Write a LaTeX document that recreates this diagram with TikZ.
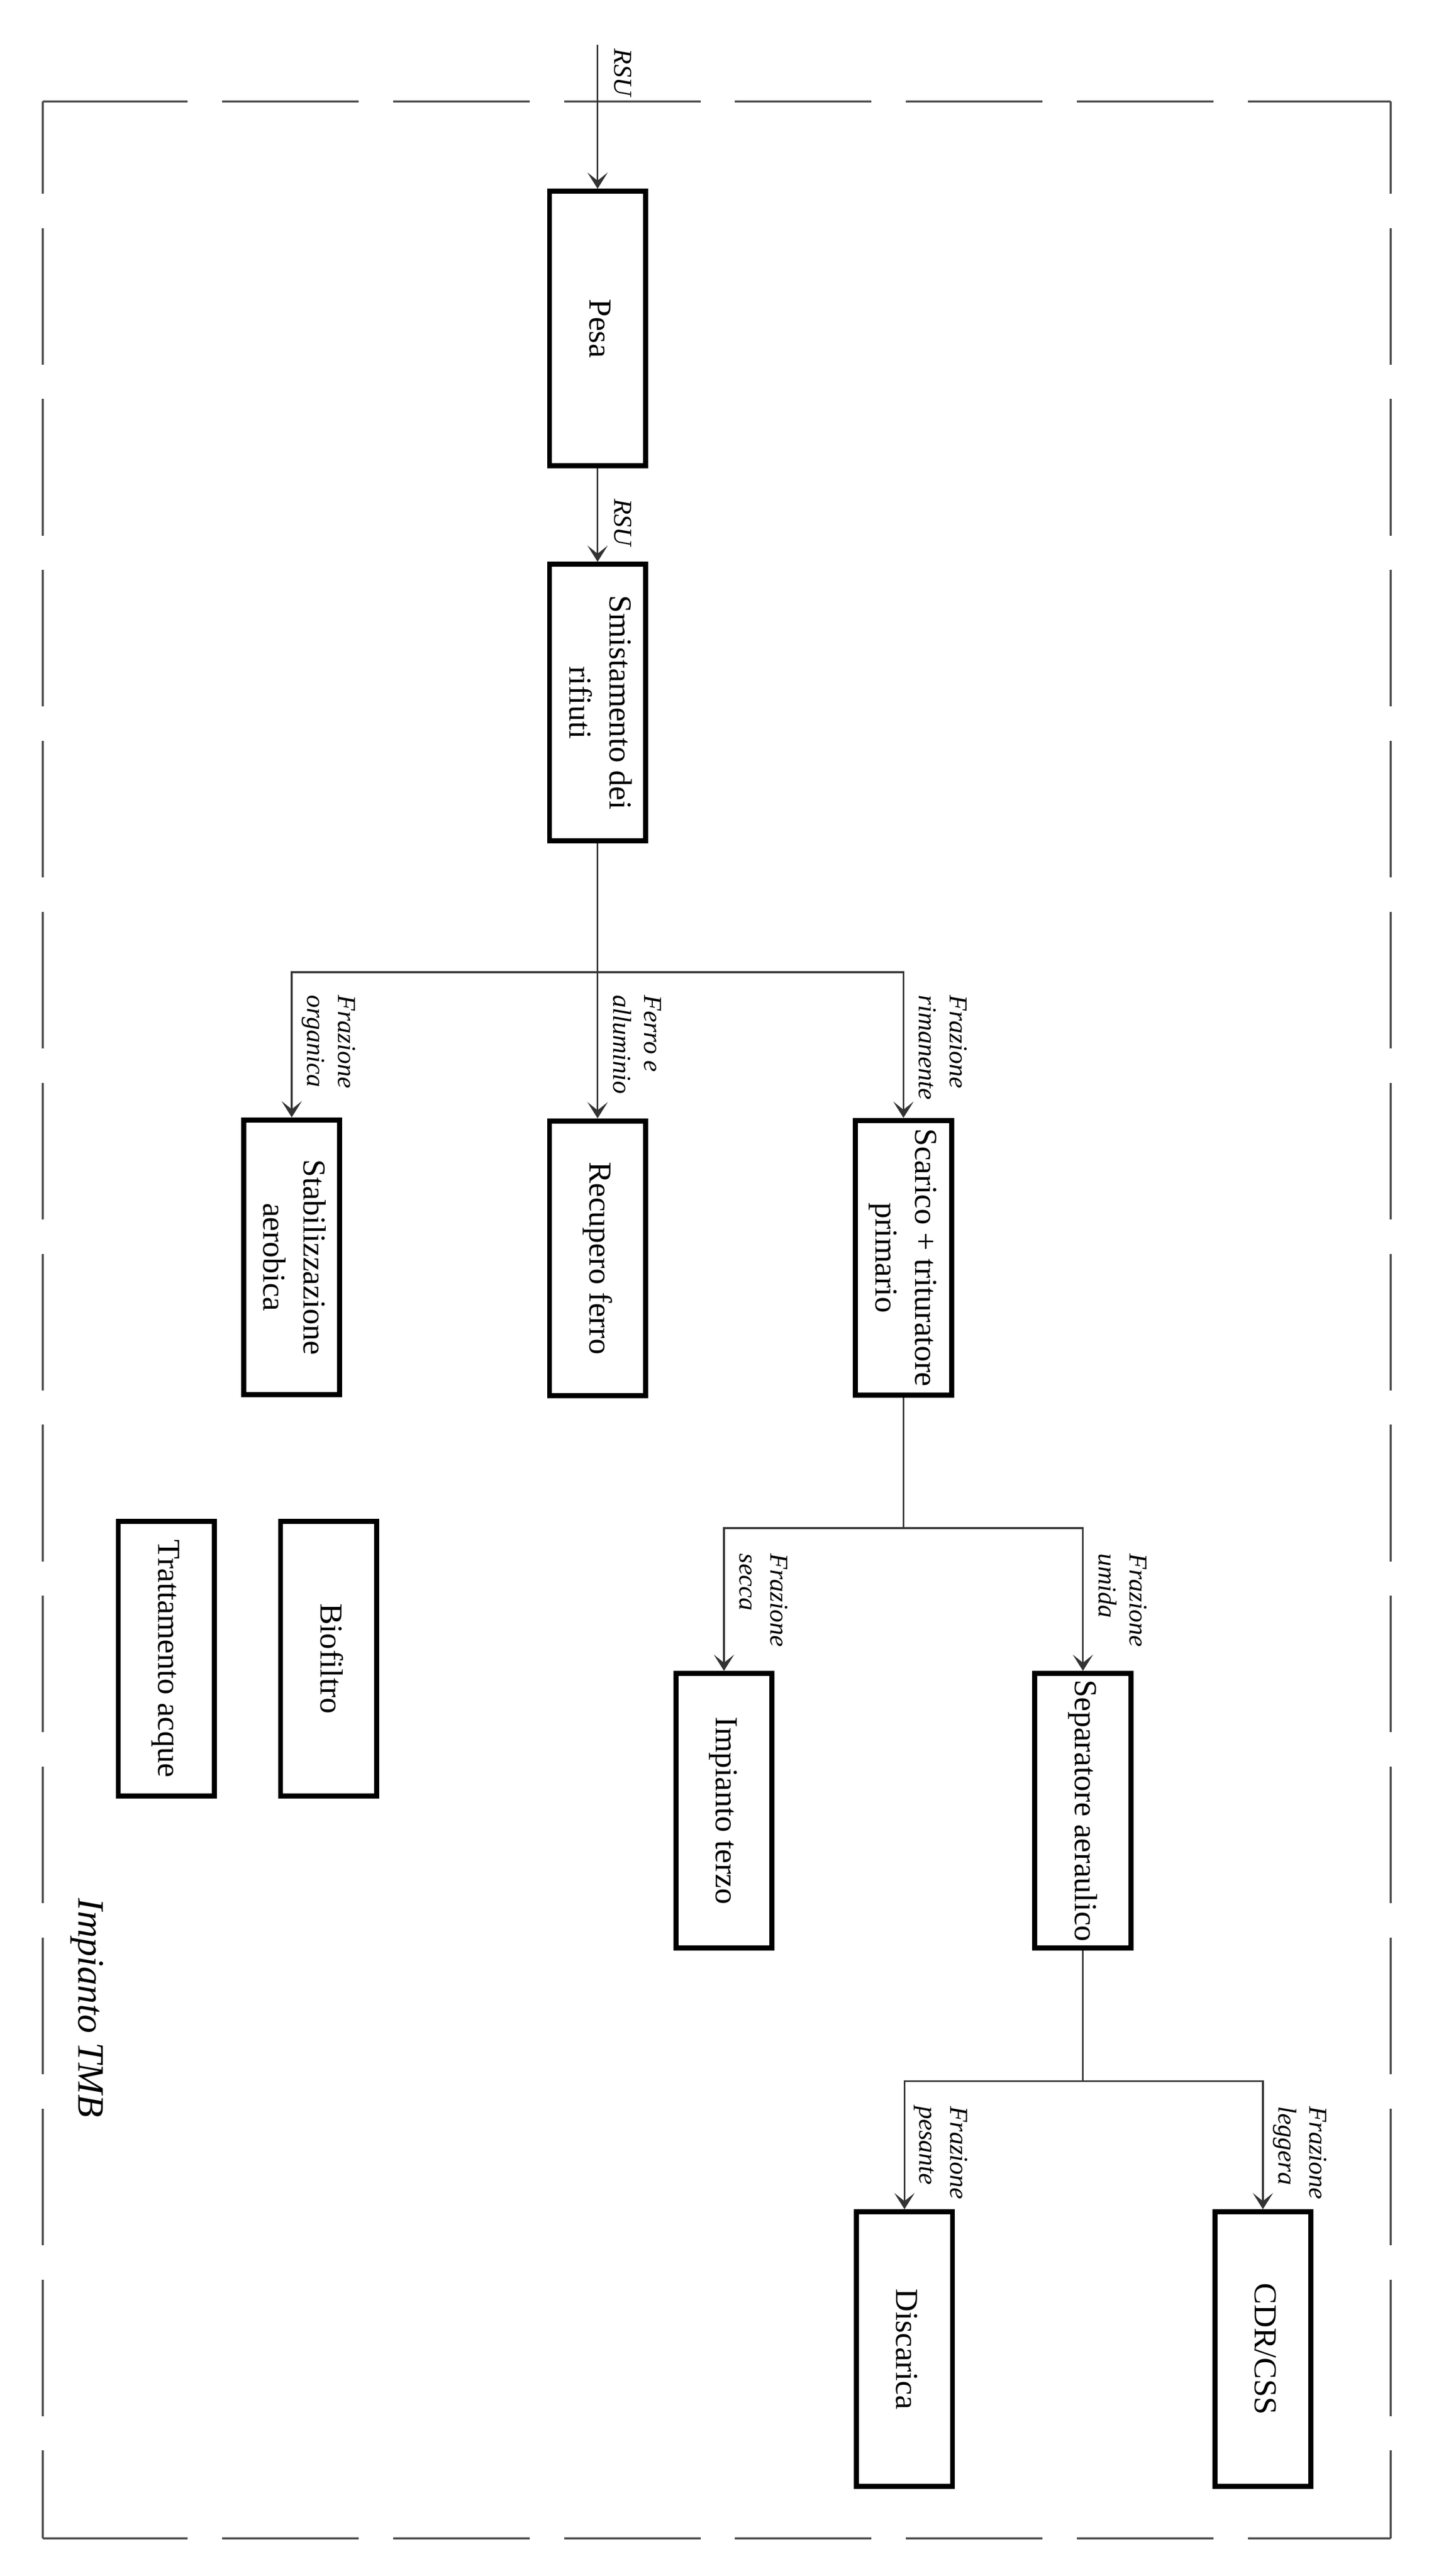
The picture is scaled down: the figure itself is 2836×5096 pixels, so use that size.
\documentclass[tikz,border=0pt]{standalone}
\usepackage{fontspec}
\setmainfont{Liberation Serif}
\usepackage{graphicx}
\usetikzlibrary{arrows.meta}
\newcommand{\myrotc}[1]{\rotatebox{-90}{\begin{tabular}{@{}c@{}}#1\end{tabular}}}
\newcommand{\myrotl}[1]{\rotatebox{-90}{\begin{tabular}{@{}l@{}}#1\end{tabular}}}
\begin{document}
\begin{tikzpicture}[x=0.01cm,y=-0.01cm,
  box/.style={draw=black, line width=0.1cm, minimum width=1.9cm, minimum height=5.43cm, inner sep=0pt, font=\fontsize{18}{22.5}\selectfont},
  conn/.style={draw=black!80, line width=0.035cm, -{Stealth[length=0.32cm,width=0.4cm,inset=0.16cm]}},
  plain/.style={draw=black!80, line width=0.035cm},
  lbl/.style={inner sep=0pt, anchor=north west, font=\fontsize{14.5}{17.4}\selectfont\itshape},
  tmbframe/.style={draw=black!70, line width=0.04cm},
  hdash/.style={dash pattern=on 2.86cm off 0.68cm on 2.7cm off 0.68cm on 2.7cm off 0.68cm on 2.7cm off 0.68cm on 2.7cm off 0.68cm on 2.7cm off 0.68cm on 2.7cm off 0.68cm on 3cm off 0.68cm},
  vdash/.style={dash pattern=on 2.7cm off 0.68cm, dash phase=0.88cm}
]
\useasboundingbox (0,0) rectangle (2836,5096);

% frame
\coordinate (fa) at (85,201);
\coordinate (fb) at (2751,201);
\coordinate (fc) at (2751,5022);
\coordinate (fd) at (85,5022);
\draw[tmbframe, hdash] (fa) -- (fb);
\draw[tmbframe, hdash] (fd) -- (fc);
\draw[tmbframe, vdash] (fa) -- (fd);
\draw[tmbframe, vdash] (fb) -- (fc);

% boxes
\node[box] (pesa)  at (1182,650)  {\myrotc{Pesa}};
\node[box, minimum height=5.47cm] (smist) at (1182,1390) {\myrotc{Smistamento dei\\rifiuti}};
\node[box] (stab)  at (577,2487)  {\myrotc{Stabilizzazione\\aerobica}};
\node[box] (recup) at (1182,2489) {\myrotc{Recupero ferro}};
\node[box] (scar)  at (1787,2488) {\myrotc{Scarico + trituratore\\primario}};
\node[box] (imp)   at (1432,3582) {\myrotc{Impianto terzo}};
\node[box] (sep)   at (2142,3582) {\myrotc{Separatore aeraulico}};
\node[box] (disc)  at (1789,4647) {\myrotc{Discarica}};
\node[box] (cdr)   at (2498,4647) {\myrotc{CDR/CSS}};
\node[box] (bio)   at (650,3281)  {\myrotc{Biofiltro}};
\node[box] (tratt) at (329,3281)  {\myrotc{Trattamento acque}};

% connectors
\coordinate (src) at (1182,89);
\coordinate (b1) at (1182,1923);
\coordinate (b2) at (1787,3023);
\coordinate (b3) at (2142,4117);

\draw[conn] (src) -- (pesa);
\draw[conn] (pesa) -- (smist);
\draw[conn] (smist) -- (recup);
\draw[conn] (b1) -| (stab.north);
\draw[conn] (b1) -| (scar.north);
\draw[plain] (scar) -- (b2);
\draw[conn] (b2) -| (imp.north);
\draw[conn] (b2) -| (sep.north);
\draw[plain] (sep) -- (b3);
\draw[conn] (b3) -| (disc.north);
\draw[conn] (b3) -| (cdr.north);

% labels
\node[lbl] (l0) at (1196,96)   {\myrotl{RSU}};
\node[lbl] (l1) at (1196,986)  {\myrotl{RSU}};
\node[lbl] (l2) at (589,1968)  {\myrotl{Frazione\\organica}};
\node[lbl] (l3) at (1194,1968) {\myrotl{Ferro e\\alluminio}};
\node[lbl] (l4) at (1799,1968) {\myrotl{Frazione\\rimanente}};
\node[lbl] (l5) at (1444,3073) {\myrotl{Frazione\\secca}};
\node[lbl] (l6) at (2154,3073) {\myrotl{Frazione\\umida}};
\node[lbl] (l7) at (1800,4166) {\myrotl{Frazione\\pesante}};
\node[lbl] (l8) at (2510,4166) {\myrotl{Frazione\\leggera}};

\node[inner sep=0pt, font=\fontsize{21}{25}\selectfont\itshape] (tmb) at (172,3972) {\rotatebox{-90}{Impianto TMB}};
\end{tikzpicture}
\end{document}
